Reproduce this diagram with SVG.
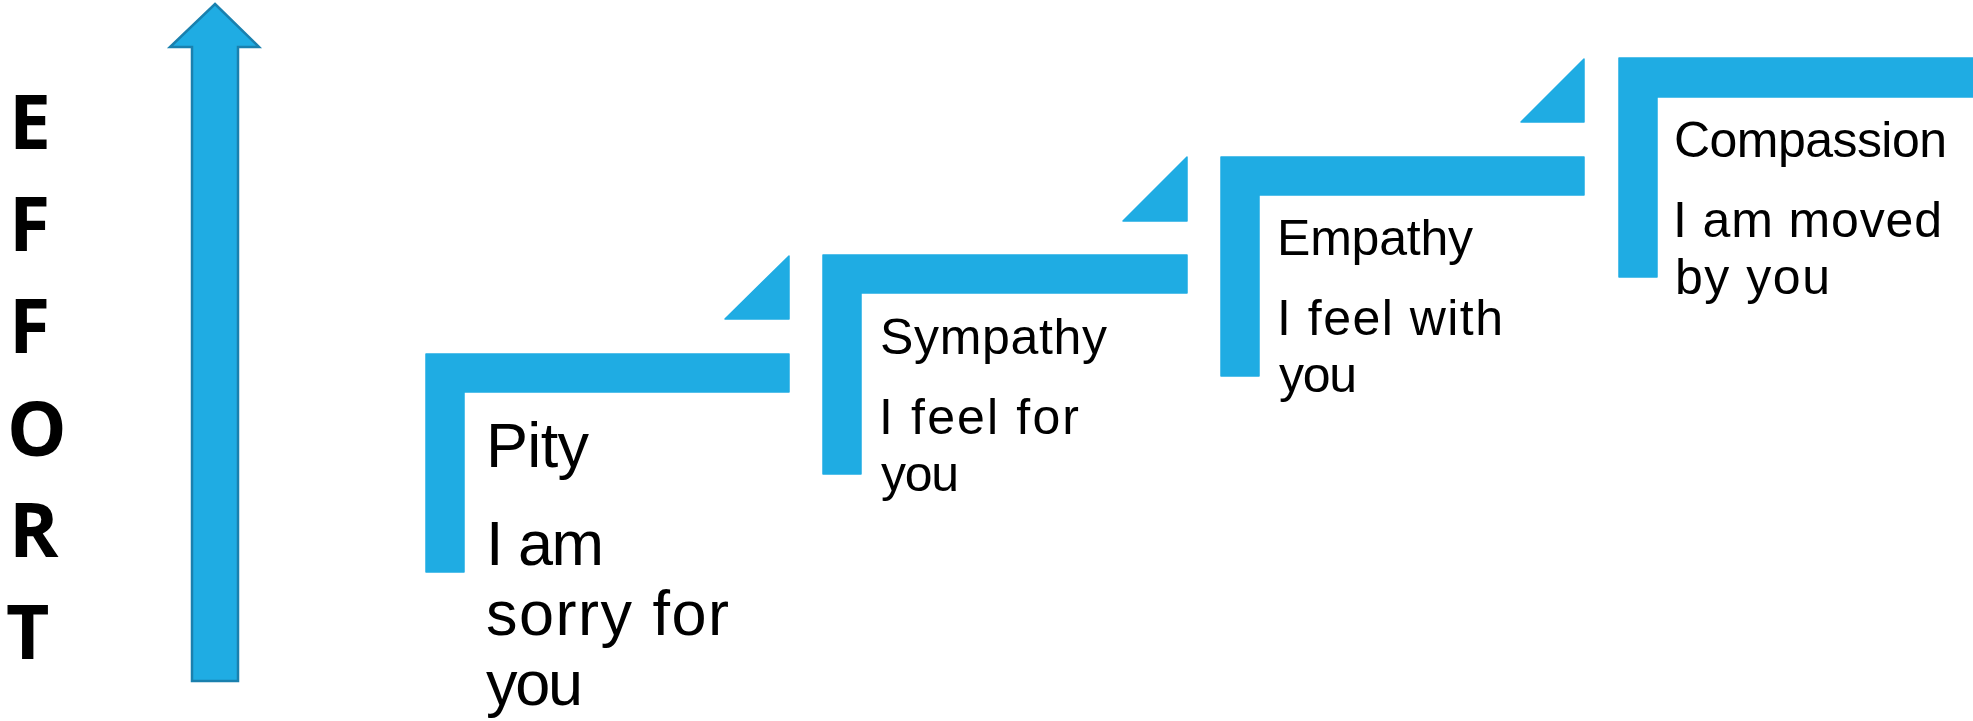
<svg xmlns="http://www.w3.org/2000/svg" width="1973" height="721" viewBox="0 0 1973 721">
<style>
.blue{fill:#1FACE3;stroke:#1FACE3;stroke-width:1.5;stroke-linejoin:round}
.effort{font-family:"Open Sans","Liberation Sans",sans-serif;font-weight:bold;font-size:75px;fill:#000}
.big{font-family:"Liberation Sans",Arial,sans-serif;font-size:63px;fill:#000}
.txt{font-family:"Liberation Sans",Arial,sans-serif;font-size:50px;fill:#000}
</style>
<rect width="1973" height="721" fill="#fff"/>
<g id="effort-axis">
<polygon points="215,4 259,47 238,47 238,681 192,681 192,47 170,47" fill="#1FACE3" stroke="#1A80AE" stroke-width="2.5"/>
<text class="effort" x="9" y="149">E</text>
<text class="effort" x="9" y="251">F</text>
<text class="effort" x="9" y="353">F</text>
<text class="effort" x="7" y="456">O</text>
<text class="effort" x="9" y="557">R</text>
<text class="effort" x="6" y="659">T</text>
</g>
<g id="step-pity">
<path class="blue" d="M426,354 H789 V392 H464 V572 H426 Z"/>
<path class="blue" d="M789,256 V319 H725 Z"/>
<text class="big" x="486" y="467" textLength="103" lengthAdjust="spacing">Pity</text>
<text class="big" x="486" y="565" textLength="118" lengthAdjust="spacing">I am</text>
<text class="big" x="486" y="635" textLength="243" lengthAdjust="spacing">sorry for</text>
<text class="big" x="486" y="705" textLength="97" lengthAdjust="spacing">you</text>
</g>
<g id="step-sympathy">
<path class="blue" d="M823,255 H1187 V293 H861 V474 H823 Z"/>
<path class="blue" d="M1187,157 V221 H1123 Z"/>
<text class="txt" x="880" y="354" textLength="227" lengthAdjust="spacing">Sympathy</text>
<text class="txt" x="879" y="434" textLength="200" lengthAdjust="spacing">I feel for</text>
<text class="txt" x="881" y="491" textLength="78" lengthAdjust="spacing">you</text>
</g>
<g id="step-empathy">
<path class="blue" d="M1221,157 H1584 V195 H1259 V376 H1221 Z"/>
<path class="blue" d="M1584,59 V122 H1521 Z"/>
<text class="txt" x="1277" y="255" textLength="196" lengthAdjust="spacing">Empathy</text>
<text class="txt" x="1277" y="335" textLength="226" lengthAdjust="spacing">I feel with</text>
<text class="txt" x="1279" y="392" textLength="78" lengthAdjust="spacing">you</text>
</g>
<g id="step-compassion">
<path class="blue" d="M1619,58 H1975 V97 H1657 V277 H1619 Z"/>
<text class="txt" x="1674" y="157" textLength="273" lengthAdjust="spacing">Compassion</text>
<text class="txt" x="1673" y="237" textLength="269" lengthAdjust="spacing">I am moved</text>
<text class="txt" x="1675" y="294" textLength="155" lengthAdjust="spacing">by you</text>
</g>
</svg>
